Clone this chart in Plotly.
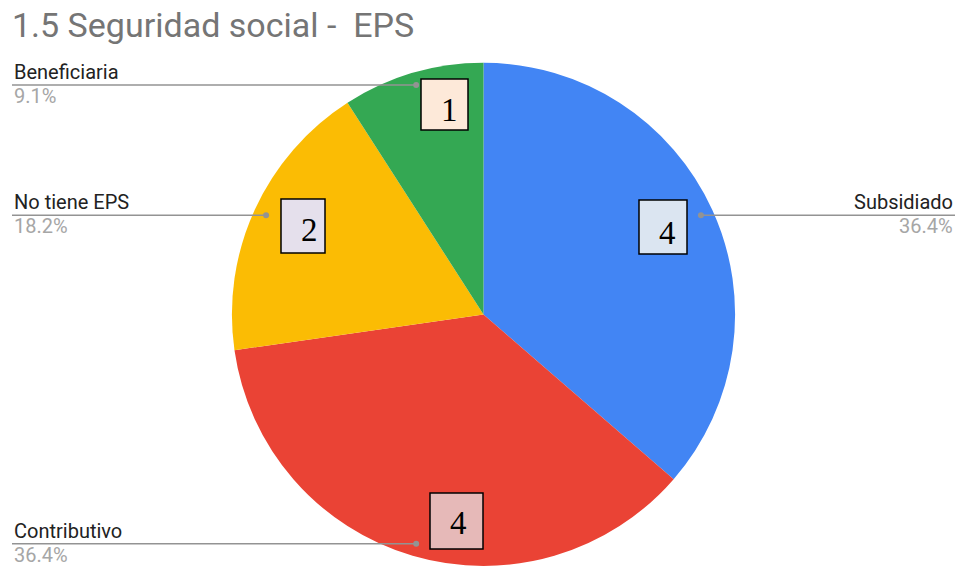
import math
import plotly.graph_objects as go

# ---------------- data ----------------
categories = ["Subsidiado", "Contributivo", "No tiene EPS", "Beneficiaria"]
values = [4, 4, 2, 1]
slice_colors = ["#4285f4", "#ea4335", "#fbbc04", "#34a853"]
box_fills = ["#dbe5f1", "#e6b9b8", "#e5e0ec", "#fde9d9"]
title_text = "1.5 Seguridad social -  EPS"

# ---------------- layout geometry (pixels) ----------------
W, H = 957, 566
CX = 483.5
DOM_Y = [0.0, 0.889]
R = (DOM_Y[1] - DOM_Y[0]) * H / 2
CY = H - (DOM_Y[0] + DOM_Y[1]) / 2 * H
DOM_X = [(CX - 300) / W, (CX + 300) / W]

# manually placed number boxes (x0, y0, x1, y1) and digit centres, in px
box_rects = [(639, 200, 687, 254), (430, 493, 483, 549), (281, 199, 325, 253), (421, 79, 468, 130)]
digit_centres = [(667, 233), (458, 523), (309, 230), (449, 110)]


def px(x):
    return x / W


def py(y):
    return 1 - y / H


total = sum(values)
fig = go.Figure(
    go.Pie(
        labels=categories,
        values=values,
        sort=False,
        direction="clockwise",
        rotation=0,
        textinfo="none",
        hoverinfo="label+value+percent",
        marker=dict(colors=slice_colors, line=dict(width=0)),
        domain=dict(x=DOM_X, y=DOM_Y),
        showlegend=False,
    )
)

shapes = []
annotations = []

LINE_COL = "#939393"
LABEL_FONT = "Roboto, Arial, sans-serif"

cum = 0
for i, (cat, v) in enumerate(zip(categories, values)):
    a = math.radians((cum + v / 2) / total * 360)
    cum += v
    dx = CX + 0.95 * R * math.sin(a)
    dy = CY - 0.95 * R * math.cos(a)
    left = math.sin(a) < 0
    edge = 12 if left else 955
    pct = f"{v / total * 100:.1f}%"
    shapes.append(dict(type="line", xref="paper", yref="paper",
                       x0=px(edge), x1=px(dx), y0=py(dy), y1=py(dy),
                       line=dict(color=LINE_COL, width=1.5), layer="above"))
    shapes.append(dict(type="circle", xref="paper", yref="paper",
                       x0=px(dx - 3), x1=px(dx + 3), y0=py(dy - 3), y1=py(dy + 3),
                       fillcolor=LINE_COL, line=dict(width=0), layer="above"))
    annotations.append(dict(x=px(edge), y=py(dy), xref="paper", yref="paper",
                            text=cat, showarrow=False,
                            xanchor="left" if left else "right", yanchor="bottom",
                            yshift=-1, font=dict(family=LABEL_FONT, size=20, color="#222222")))
    annotations.append(dict(x=px(edge), y=py(dy), xref="paper", yref="paper",
                            text=pct, showarrow=False,
                            xanchor="left" if left else "right", yanchor="top",
                            yshift=3, font=dict(family=LABEL_FONT, size=20, color="#a6a6a6")))

    # number box
    x0, y0, x1, y1 = box_rects[i]
    shapes.append(dict(type="rect", xref="paper", yref="paper",
                       x0=px(x0), x1=px(x1), y0=py(y0), y1=py(y1),
                       fillcolor=box_fills[i], line=dict(color="#000000", width=1.5), layer="above"))
    gx, gy = digit_centres[i]
    annotations.append(dict(x=px(gx), y=py(gy), xref="paper", yref="paper",
                            text=str(v), showarrow=False, xanchor="center", yanchor="middle",
                            yshift=0,
                            font=dict(family="Liberation Serif, Times New Roman, serif", size=33,
                                      color="#000000")))

annotations.append(dict(x=px(10), y=py(25), xref="paper", yref="paper", text=title_text,
                        showarrow=False, xanchor="left", yanchor="middle",
                        font=dict(family=LABEL_FONT, size=34, color="#757575")))

fig.update_layout(
    width=W, height=H,
    margin=dict(l=0, r=0, t=0, b=0),
    paper_bgcolor="#ffffff",
    plot_bgcolor="#ffffff",
    shapes=shapes,
    annotations=annotations,
)

fig.write_html(
    "out.html",
    config={"displayModeBar": False},
    post_script="document.body.style.margin='0';document.body.style.padding='0';"
                "document.body.style.overflow='hidden';",
)
